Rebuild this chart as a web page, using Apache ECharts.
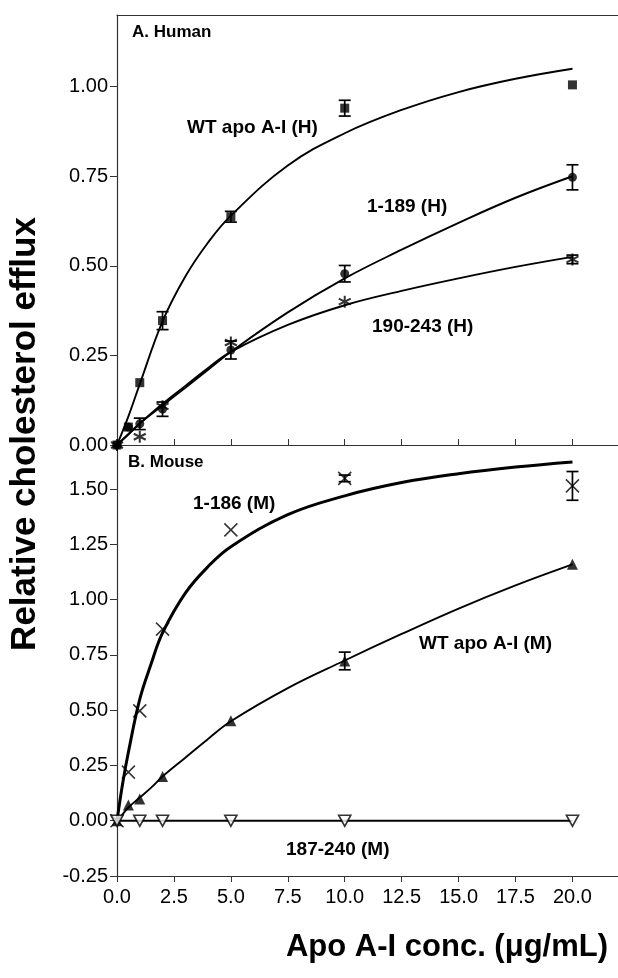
<!DOCTYPE html>
<html>
<head>
<meta charset="utf-8">
<script src="https://cdn.jsdelivr.net/npm/echarts@6/dist/echarts.min.js"></script>
<style>html,body{margin:0;padding:0;background:#fff}#c{width:618px;height:978px}</style>
</head>
<body>
<div id="c"></div>
<script>
// ---------- data ----------
const conc = [0, 0.5, 1, 2, 5, 10, 20];
// Panel A: Human
const wtH     = [0, 0.05, 0.174, 0.347, 0.637, 0.94, 1.005];
const wtHErr  = [0, 0, 0, 0.025, 0.015, 0.022, 0];
const h189    = [0, 0.05, 0.059, 0.10, 0.265, 0.478, 0.747];
const h189Err = [0, 0, 0.016, 0.02, 0.025, 0.023, 0.035];
const h190    = [0, null, 0.023, 0.108, 0.286, 0.40, 0.518];
const h190Err = [0, 0, 0, 0, 0, 0, 0.012];
// Panel B: Mouse
const m186    = [0, 0.22, 0.497, 0.867, 1.316, 1.549, 1.515];
const m186Err = [0, 0, 0, 0, 0, 0.015, 0.065];
const wtM     = [0, 0.071, 0.098, 0.20, 0.452, 0.723, 1.16];
const wtMErr  = [0, 0, 0, 0, 0, 0.04, 0];
const m187    = [0, null, 0, 0, 0, 0, 0];
// fitted curves
const fitXH   = [0, 0.5, 1, 2, 3, 4, 5, 7.5, 10, 12.5, 15, 17.5, 20];
const wtHFit  = [0, 0.08, 0.17, 0.345, 0.47, 0.565, 0.64, 0.78, 0.87, 0.935, 0.985, 1.022, 1.05];
const h189Fit = [0, 0.03, 0.06, 0.11, 0.16, 0.21, 0.26, 0.37, 0.465, 0.545, 0.62, 0.69, 0.75];
const h190Fit = [0, 0.03, 0.06, 0.115, 0.165, 0.215, 0.26, 0.335, 0.39, 0.43, 0.465, 0.497, 0.525];
const fitXM   = [0, 0.25, 0.5, 1, 1.5, 2, 3, 4, 5, 7.5, 10, 12.5, 15, 17.5, 20];
const m186Fit = [0, 0.17, 0.31, 0.55, 0.71, 0.85, 1.03, 1.15, 1.24, 1.385, 1.47, 1.53, 1.57, 1.60, 1.623];
const wtMFit  = [0, 0.03, 0.06, 0.105, 0.15, 0.20, 0.285, 0.37, 0.45, 0.60, 0.725, 0.845, 0.96, 1.065, 1.16];
const m187FitX = [0, 20];
const m187Fit  = [0, 0];
// ticks
const xTicks  = [0, 2.5, 5, 7.5, 10, 12.5, 15, 17.5, 20];
const yTicksA = [0, 0.25, 0.5, 0.75, 1.0];
const yTicksB = [-0.25, 0, 0.25, 0.5, 0.75, 1.0, 1.25, 1.5];
// labels
const panelA = 'A. Human', panelB = 'B. Mouse';
const lblWtH = 'WT apo A-I (H)', lbl189 = '1-189 (H)', lbl190 = '190-243 (H)';
const lbl186 = '1-186 (M)', lblWtM = 'WT apo A-I (M)', lbl187 = '187-240 (M)';
const yTitle = 'Relative cholesterol efflux', xTitle = 'Apo A-I conc. (μg/mL)';

// ---------- helpers ----------
const FONT = '"Liberation Sans", Arial, Helvetica, sans-serif';
const pairs = (xs, ys) => xs.map((x, i) => [x, ys[i]]).filter(p => p[1] !== null);
const errs = (xs, ys, es) => xs.map((x, i) => [x, ys[i] - es[i], ys[i] + es[i]]).filter((p, i) => es[i] > 0);
function errRender(params, api) {
  const x = api.value(0), lo = api.value(1), hi = api.value(2);
  const a = api.coord([x, hi]), b = api.coord([x, lo]);
  const w = 6, st = {stroke: '#000', lineWidth: 1.7};
  return {type: 'group', children: [
    {type: 'line', shape: {x1: a[0], y1: a[1], x2: b[0], y2: b[1]}, style: st},
    {type: 'line', shape: {x1: a[0] - w, y1: a[1], x2: a[0] + w, y2: a[1]}, style: st},
    {type: 'line', shape: {x1: b[0] - w, y1: b[1], x2: b[0] + w, y2: b[1]}, style: st}
  ]};
}
const fitLine = (xi, yi, xs, ys, w) => ({
  type: 'line', xAxisIndex: xi, yAxisIndex: yi, data: pairs(xs, ys), showSymbol: false, symbol: 'none',
  smooth: 0.4, lineStyle: {color: '#000', width: w}, silent: true, z: 2
});
const scatter = (xi, yi, ys, symbol, size, style) => ({
  type: 'scatter', xAxisIndex: xi, yAxisIndex: yi, data: pairs(conc, ys), symbol, symbolSize: size,
  itemStyle: style, silent: true, z: 4
});
const errSeries = (xi, yi, ys, es) => ({
  type: 'custom', xAxisIndex: xi, yAxisIndex: yi, data: errs(conc, ys, es), renderItem: errRender,
  encode: {x: 0, y: [1, 2]}, silent: true, z: 3
});
const AXC = '#333';
const axisLabelStyle = {color: '#000', fontSize: 20, fontFamily: FONT};
const X_MARK = 'path://M0,0L10,10M10,0L0,10';
const ASTER = 'path://M5,0L5,10M0.67,2.5L9.33,7.5M0.67,7.5L9.33,2.5';
const INV_TRI = 'path://M0,0L10,0L5,9Z';
const filled = {color: '#000'};
const stroked = {color: 'rgba(0,0,0,0)', borderColor: '#000', borderWidth: 2};

const chart = echarts.init(document.getElementById('c'), null, {renderer: 'canvas'});
const text = (x, y, t, size) => ({
  type: 'text', x, y, style: {text: t, font: 'bold ' + size + 'px ' + FONT, fill: '#000', textVerticalAlign: 'middle'}
});

chart.setOption({
  animation: false,
  backgroundColor: '#fff',
  grid: [
    {left: 117, top: 15, width: 503, height: 430},
    {left: 117, top: 445, width: 503, height: 431}
  ],
  xAxis: [
    {gridIndex: 0, type: 'value', min: 0, max: 22, position: 'bottom',
     axisLine: {show: true, lineStyle: {color: AXC, width: 1.2}},
     axisTick: {show: true, inside: true, length: 6, customValues: xTicks, lineStyle: {color: AXC}},
     axisLabel: {show: false}, splitLine: {show: false}},
    {gridIndex: 0, type: 'value', min: 0, max: 22, position: 'top',
     axisLine: {show: true, onZero: false, lineStyle: {color: AXC, width: 1.2}},
     axisTick: {show: false}, axisLabel: {show: false}, splitLine: {show: false}},
    {gridIndex: 1, type: 'value', min: 0, max: 22, position: 'bottom',
     axisLine: {show: true, onZero: false, lineStyle: {color: AXC, width: 1.2}},
     axisTick: {show: true, length: 6, customValues: xTicks, lineStyle: {color: AXC}},
     axisLabel: Object.assign({margin: 11, customValues: xTicks, formatter: v => v.toFixed(1)}, axisLabelStyle),
     splitLine: {show: false}}
  ],
  yAxis: [
    {gridIndex: 0, type: 'value', min: 0, max: 1.2,
     axisLine: {show: true, onZero: false, lineStyle: {color: AXC, width: 1.2}},
     axisTick: {show: true, length: 7, customValues: yTicksA, lineStyle: {color: AXC}},
     axisLabel: Object.assign({margin: 9, customValues: yTicksA, formatter: v => v.toFixed(2)}, axisLabelStyle),
     splitLine: {show: false}},
    {gridIndex: 1, type: 'value', min: -0.25, max: 1.7,
     axisLine: {show: true, onZero: false, lineStyle: {color: AXC, width: 1.2}},
     axisTick: {show: true, length: 7, customValues: yTicksB, lineStyle: {color: AXC}},
     axisLabel: Object.assign({margin: 9, customValues: yTicksB, formatter: v => v.toFixed(2)}, axisLabelStyle),
     splitLine: {show: false}}
  ],
  series: [
    fitLine(0, 0, fitXH, wtHFit, 1.9),
    fitLine(0, 0, fitXH, h189Fit, 1.9),
    fitLine(0, 0, fitXH, h190Fit, 1.9),
    errSeries(0, 0, wtH, wtHErr),
    errSeries(0, 0, h189, h189Err),
    errSeries(0, 0, h190, h190Err),
    scatter(0, 0, wtH, 'rect', 9, filled),
    scatter(0, 0, h189, 'circle', 9, filled),
    scatter(0, 0, h190, ASTER, 12, stroked),

    fitLine(2, 1, fitXM, m186Fit, 3),
    fitLine(2, 1, fitXM, wtMFit, 1.9),
    fitLine(2, 1, m187FitX, m187Fit, 2),
    errSeries(2, 1, m186, m186Err),
    errSeries(2, 1, wtM, wtMErr),
    scatter(2, 1, m186, X_MARK, 13, {color: 'rgba(0,0,0,0)', borderColor: '#000', borderWidth: 1.5}),
    scatter(2, 1, wtM, 'triangle', 11, filled),
    scatter(2, 1, m187, INV_TRI, [12, 11], {color: '#fff', borderColor: '#000', borderWidth: 1.7})
  ],
  graphic: [
    text(132, 32, panelA, 17),
    text(128, 462, panelB, 17),
    text(187, 128, lblWtH, 19),
    text(367, 207, lbl189, 19),
    text(372, 327, lbl190, 19),
    text(193, 504, lbl186, 19),
    text(419, 644, lblWtM, 19),
    text(286, 850, lbl187, 19),
    {type: 'text', x: 447, y: 947,
     style: {text: xTitle, font: 'bold 31px ' + FONT, fill: '#000', textAlign: 'center', textVerticalAlign: 'middle'}},
    {type: 'text', x: 25, y: 434, rotation: Math.PI / 2,
     style: {text: yTitle, font: 'bold 35px ' + FONT, fill: '#000', textAlign: 'center', textVerticalAlign: 'middle'}}
  ]
});
</script>
</body>
</html>
